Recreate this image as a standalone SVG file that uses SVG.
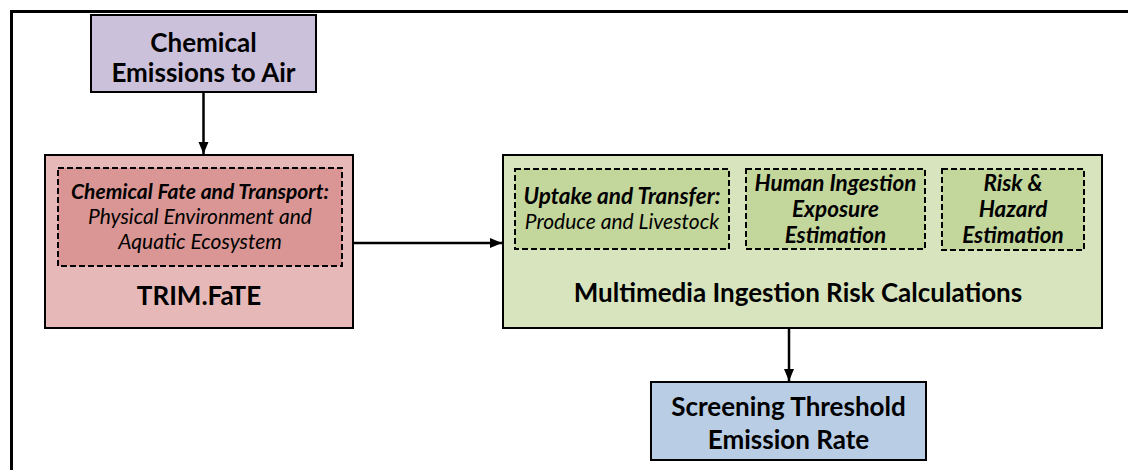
<svg xmlns="http://www.w3.org/2000/svg" width="1128" height="470" viewBox="0 0 1128 470">
<defs>
<marker id="ah" markerWidth="12" markerHeight="12" refX="12" refY="6" orient="auto" markerUnits="userSpaceOnUse">
<path d="M0,1 L12,6 L0,11 Z" fill="#000"/>
</marker>
<style>
text{font-family:Lato,"Liberation Sans",sans-serif;fill:#000;text-anchor:middle}
.box{stroke:#000;stroke-width:2}
.dash{stroke:#000;stroke-width:2;stroke-dasharray:6,3}
.big{font-size:26px;font-weight:bold}
.bi{font-size:21px;font-weight:bold;font-style:italic}
.bg{font-size:22.5px;font-weight:bold;font-style:italic}
.it{font-size:21px;font-style:italic}
.conn{stroke:#000;stroke-width:2.5;fill:none}
</style>
</defs>
<rect width="1128" height="470" fill="#fff"/>
<path d="M11.5,470 V11.5 H1128" fill="none" stroke="#000" stroke-width="3"/>
<g id="emissions">
<rect class="box" x="91" y="15" width="225" height="77" fill="#CCC1DA"/>
<text class="big" x="203.5" y="52">Chemical</text>
<text class="big" x="203.5" y="82">Emissions to Air</text>
</g>
<g id="trimfate">
<rect class="box" x="45" y="155" width="308" height="173" fill="#E6B9B8"/>
<rect class="dash" x="58" y="168" width="284" height="98" fill="#D99694"/>
<text class="bi" x="200" y="199">Chemical Fate and Transport:</text>
<text class="it" x="200" y="224">Physical Environment and</text>
<text class="it" x="200" y="249">Aquatic Ecosystem</text>
<text class="big" x="199" y="305">TRIM.FaTE</text>
</g>
<g id="multimedia">
<rect class="box" x="503" y="155" width="599" height="173" fill="#D7E4BD"/>
<rect class="dash" x="515" y="169" width="214" height="80" fill="#C3D69B"/>
<text class="bg" x="622" y="204">Uptake and Transfer:</text>
<text class="it" x="622" y="229">Produce and Livestock</text>
<rect class="dash" x="746" y="169" width="179" height="80" fill="#C3D69B"/>
<text class="bg" x="835.5" y="191">Human Ingestion</text>
<text class="bg" x="835.5" y="217">Exposure</text>
<text class="bg" x="835.5" y="243">Estimation</text>
<rect class="dash" x="942" y="169" width="142" height="81" fill="#C3D69B"/>
<text class="bg" x="1013" y="191">Risk &amp;</text>
<text class="bg" x="1013" y="217">Hazard</text>
<text class="bg" x="1013" y="243">Estimation</text>
<text class="big" x="798" y="302">Multimedia Ingestion Risk Calculations</text>
</g>
<g id="screening">
<rect class="box" x="651" y="382" width="275" height="78" fill="#B9CDE5"/>
<text class="big" x="788.5" y="416">Screening Threshold</text>
<text class="big" x="788.5" y="449">Emission Rate</text>
</g>
<g id="connectors">
<line class="conn" x1="203.5" y1="92" x2="203.5" y2="154" marker-end="url(#ah)"/>
<line class="conn" x1="353" y1="243" x2="502" y2="243" marker-end="url(#ah)"/>
<line class="conn" x1="789" y1="328" x2="789" y2="381" marker-end="url(#ah)"/>
</g>
</svg>
